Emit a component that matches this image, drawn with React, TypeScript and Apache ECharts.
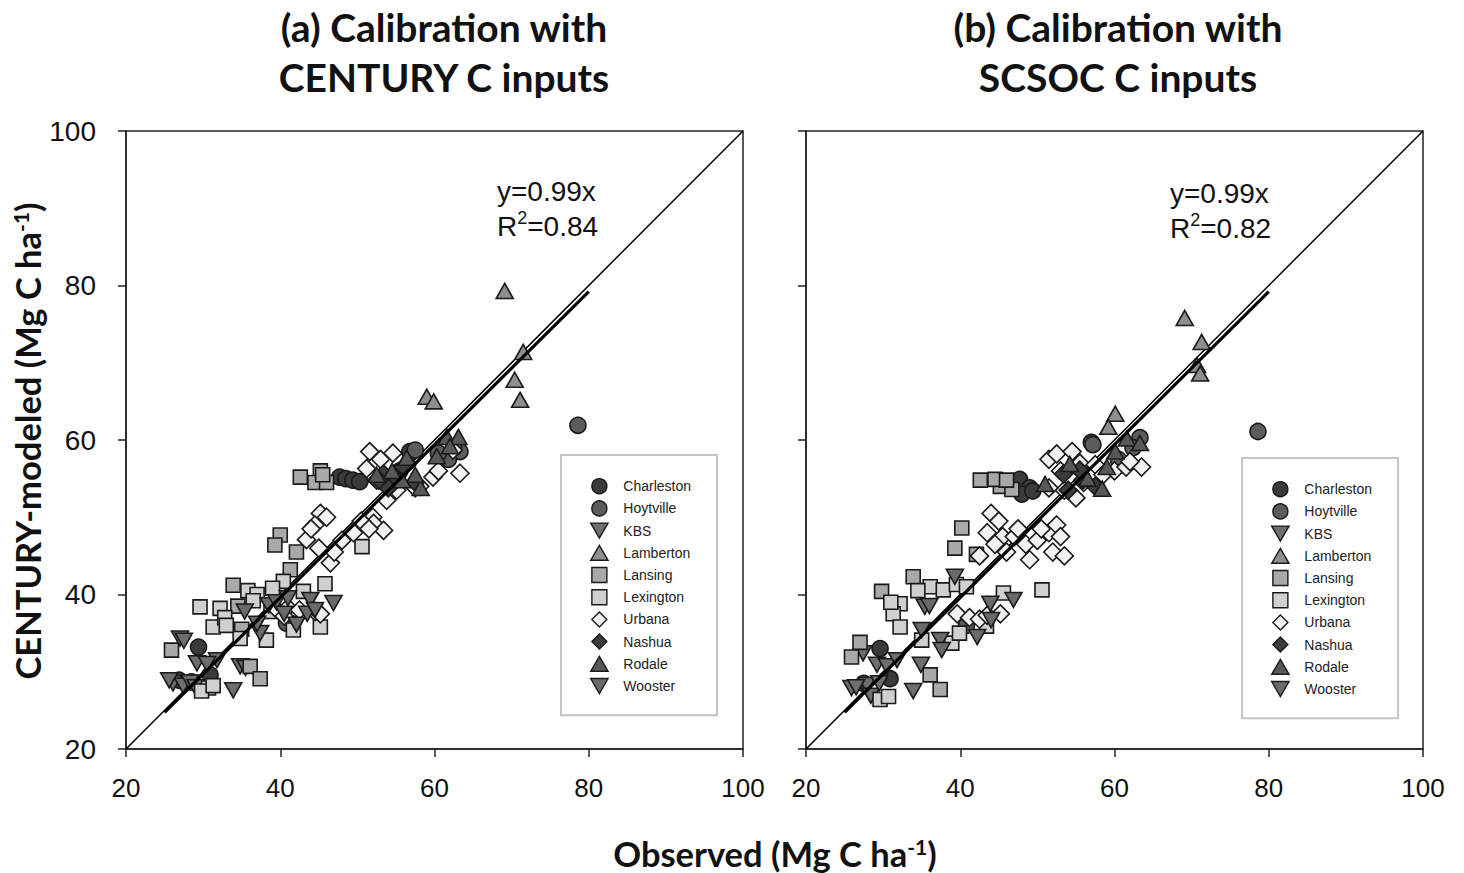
import React, { useEffect, useRef } from "react";
import * as echarts from "echarts";

// ---------- data ----------
const AXIS_MIN = 20;
const AXIS_MAX = 100;
const AXIS_STEP = 20;

const SITE_NAMES = ["Charleston", "Hoytville", "KBS", "Lamberton", "Lansing", "Lexington", "Urbana", "Nashua", "Rodale", "Wooster"];

const TITLE_A = ["(a) Calibration with", "CENTURY C inputs"];
const TITLE_B = ["(b) Calibration with", "SCSOC C inputs"];
const EQ_A = ["y=0.99x", "0.84"];
const EQ_B = ["y=0.99x", "0.82"];

const ONE_TO_ONE = [[20, 20], [100, 100]];
const FIT_A = [[25, 24.75], [80, 79.2]];
const FIT_B = [[25, 24.75], [80, 79.2]];

// Panel (a): CENTURY C inputs
const A_CHARLESTON = [[47.7, 55.2], [48.5, 55.0], [49.4, 54.8], [50.3, 54.6], [41.5, 36.2], [29.4, 33.2], [30.9, 29.6], [26.9, 28.9], [28.5, 28.7], [56.8, 58.5]];
const A_HOYTVILLE = [[78.6, 61.9], [63.3, 58.5], [62.5, 59.0], [61.8, 57.5], [60.5, 58.3], [55.5, 56.0], [40.8, 36.3], [57.5, 58.7]];
const A_KBS = [[27.0, 34.3], [27.5, 34.0], [29.2, 31.1], [31.8, 31.5], [30.5, 31.0], [34.8, 30.7], [35.5, 30.5], [33.9, 27.6], [26.1, 28.5], [27.4, 28.2], [28.3, 28.6], [25.6, 28.9], [29.0, 28.0]];
const A_LAMBERTON = [[69.1, 79.3], [71.5, 71.4], [70.4, 67.8], [71.1, 65.2], [59.0, 65.6], [59.9, 65.0]];
const A_LANSING = [[42.6, 55.2], [45.2, 56.0], [44.5, 54.5], [46.0, 54.5], [45.5, 55.5], [40.0, 47.7], [39.3, 46.4], [42.1, 45.5], [41.3, 43.2], [33.9, 41.2], [25.9, 32.8], [36.1, 30.7], [37.4, 29.1], [35.0, 35.5], [34.5, 38.5]];
const A_LEXINGTON = [[40.4, 41.7], [50.6, 46.2], [29.6, 38.4], [32.2, 38.2], [31.3, 35.8], [34.8, 34.3], [38.2, 34.1], [43.0, 40.4], [45.8, 41.4], [41.7, 35.4], [45.2, 35.8], [30.7, 27.9], [29.8, 27.5], [35.8, 40.5], [37.0, 40.0], [39.0, 40.8], [32.8, 37.0], [36.5, 39.2], [38.8, 37.8], [33.0, 36.0], [31.3, 28.2]];
const A_URBANA = [[51.6, 58.5], [54.6, 58.3], [51.2, 56.3], [52.5, 54.8], [55.1, 53.5], [58.1, 54.0], [59.8, 55.2], [63.3, 55.7], [62.4, 58.7], [53.0, 57.5], [56.5, 57.0], [57.5, 53.8], [60.5, 56.0], [53.8, 52.2], [52.0, 50.0], [45.2, 50.5], [43.4, 47.1], [46.5, 44.1], [52.1, 49.2], [53.4, 48.3], [44.5, 49.0], [46.0, 50.0], [45.0, 46.0], [48.0, 47.0], [49.5, 48.0], [50.5, 49.5], [47.0, 45.5], [51.5, 48.5], [44.0, 48.5], [39.5, 38.1], [41.0, 38.3], [42.5, 38.0], [44.5, 37.8], [45.2, 37.5], [40.5, 37.2]];
const A_NASHUA = [[53.4, 55.6], [55.0, 55.0], [56.0, 56.5], [57.5, 54.5], [54.0, 53.8], [52.8, 54.8]];
const A_RODALE = [[61.6, 60.4], [63.1, 60.4], [60.3, 57.9], [56.4, 57.7], [58.2, 53.8], [54.5, 56.0], [57.5, 55.5], [62.0, 59.2], [52.5, 55.5], [55.8, 54.8]];
const A_WOOSTER = [[35.4, 37.8], [37.4, 35.0], [37.0, 36.2], [43.9, 39.3], [46.9, 38.9], [42.1, 36.1], [43.5, 37.5], [38.5, 38.6], [39.5, 39.0], [41.0, 39.5], [44.5, 38.0], [40.5, 37.5]];

// Panel (b): SCSOC C inputs
const B_CHARLESTON = [[47.7, 54.9], [49.0, 53.8], [48.0, 53.0], [49.4, 53.4], [57.0, 59.7], [29.6, 33.0], [30.9, 29.1], [27.5, 28.5]];
const B_HOYTVILLE = [[78.6, 61.1], [63.3, 60.3], [62.4, 59.0], [57.2, 59.4], [60.5, 57.5], [55.0, 57.2], [40.8, 36.0]];
const B_KBS = [[27.4, 32.4], [29.2, 30.9], [30.5, 30.7], [31.8, 31.5], [34.9, 30.9], [33.9, 27.5], [25.9, 27.9], [27.9, 28.3], [28.4, 26.9], [26.5, 28.0], [29.5, 28.5]];
const B_LAMBERTON = [[69.1, 75.8], [71.3, 72.7], [70.7, 69.7], [71.1, 68.6], [60.1, 63.4], [59.2, 61.7]];
const B_LANSING = [[42.6, 54.8], [45.2, 54.0], [46.7, 53.6], [44.5, 54.9], [46.0, 54.8], [40.2, 48.6], [39.3, 46.0], [42.1, 45.2], [33.9, 42.3], [27.0, 33.8], [25.9, 31.9], [36.1, 29.6], [37.4, 27.7], [29.8, 40.4]];
const B_LEXINGTON = [[50.6, 40.6], [32.2, 38.8], [31.3, 37.5], [32.2, 35.8], [36.1, 41.0], [37.8, 40.6], [39.5, 41.3], [40.8, 41.0], [35.0, 34.1], [38.9, 33.7], [39.9, 35.0], [43.4, 35.9], [45.6, 40.2], [29.6, 26.4], [30.7, 26.8], [34.5, 40.5], [31.0, 39.0]];
const B_URBANA = [[51.5, 57.5], [52.5, 58.2], [53.0, 56.0], [54.5, 58.5], [55.5, 57.0], [57.5, 56.8], [58.5, 55.5], [60.0, 56.0], [61.5, 56.5], [63.5, 56.5], [62.0, 57.2], [53.5, 53.5], [56.0, 54.5], [51.5, 53.8], [55.0, 52.5], [44.0, 50.5], [45.0, 49.5], [43.5, 48.0], [45.5, 47.5], [47.0, 47.5], [48.5, 46.5], [50.0, 47.0], [51.5, 48.0], [52.5, 49.0], [53.0, 47.5], [52.0, 45.5], [53.5, 45.0], [46.0, 45.5], [49.0, 44.5], [47.5, 48.5], [50.5, 48.5], [44.5, 46.5], [42.5, 45.0], [39.6, 37.5], [41.2, 37.0], [42.5, 36.8], [43.5, 37.3], [45.2, 37.5]];
const B_NASHUA = [[53.4, 55.6], [55.9, 54.8], [55.5, 56.1], [54.0, 53.5], [57.5, 54.0]];
const B_RODALE = [[61.6, 60.2], [63.3, 59.6], [60.1, 58.5], [58.4, 53.7], [54.2, 56.9], [51.0, 54.3], [56.5, 55.0], [59.0, 56.5]];
const B_WOOSTER = [[39.3, 42.3], [35.4, 38.4], [35.0, 35.4], [37.4, 34.1], [37.6, 32.8], [43.9, 38.8], [46.9, 39.3], [42.2, 34.5], [44.0, 36.7], [36.0, 38.5]];

const PANEL_A = [A_CHARLESTON, A_HOYTVILLE, A_KBS, A_LAMBERTON, A_LANSING, A_LEXINGTON, A_URBANA, A_NASHUA, A_RODALE, A_WOOSTER];
const PANEL_B = [B_CHARLESTON, B_HOYTVILLE, B_KBS, B_LAMBERTON, B_LANSING, B_LEXINGTON, B_URBANA, B_NASHUA, B_RODALE, B_WOOSTER];

// ---------- styles ----------
const DOWN_TRIANGLE = "path://M0,0L20,0L10,17.3Z";
const UP_TRIANGLE = "path://M10,0L20,17.3L0,17.3Z";
const SQUARE = "path://M0,0L10,0L10,10L0,10Z";
const DIAMOND = "path://M5,0L10,5L5,10L0,5Z";

const SITE_STYLE: Record<string, { symbol: string; icon: string; color: string; size: number | number[] }> = {
  Charleston: { symbol: "circle", icon: "circle", color: "#3a3a3a", size: 16 },
  Hoytville: { symbol: "circle", icon: "circle", color: "#5c5c5c", size: 16 },
  KBS: { symbol: DOWN_TRIANGLE, icon: DOWN_TRIANGLE, color: "#6e6e6e", size: [17, 15] },
  Lamberton: { symbol: UP_TRIANGLE, icon: UP_TRIANGLE, color: "#8e8e8e", size: [17, 15] },
  Lansing: { symbol: "rect", icon: SQUARE, color: "#a9a9a9", size: 14 },
  Lexington: { symbol: "rect", icon: SQUARE, color: "#d0d0d0", size: 14 },
  Urbana: { symbol: "diamond", icon: DIAMOND, color: "#f2f2f2", size: 18 },
  Nashua: { symbol: "diamond", icon: DIAMOND, color: "#3c3c3c", size: 18 },
  Rodale: { symbol: UP_TRIANGLE, icon: UP_TRIANGLE, color: "#585858", size: [17, 15] },
  Wooster: { symbol: DOWN_TRIANGLE, icon: DOWN_TRIANGLE, color: "#6a6a6a", size: [17, 15] },
};

const FONT = "'Liberation Sans', Arial, sans-serif";
const TITLE_FONT = "Lato, 'Open Sans', sans-serif";

function makeAxis(gridIndex: number, showLabels: boolean, fontSize: number, margin: number) {
  return {
    type: "value",
    gridIndex,
    min: AXIS_MIN,
    max: AXIS_MAX,
    interval: AXIS_STEP,
    axisLine: { show: true, lineStyle: { color: "#222", width: 1.5 } },
    axisTick: { show: true, inside: false, length: 8, lineStyle: { color: "#222", width: 1.5 } },
    axisLabel: { show: showLabels, fontSize, color: "#111", fontFamily: FONT, margin },
    splitLine: { show: false },
  };
}

function scatterSeries(panel: number[][][], axisIndex: number) {
  return SITE_NAMES.map((name, i) => {
    const st = SITE_STYLE[name];
    return {
      type: "scatter",
      name,
      xAxisIndex: axisIndex,
      yAxisIndex: axisIndex,
      data: panel[i],
      symbol: st.symbol,
      symbolSize: st.size,
      itemStyle: { color: st.color, borderColor: "#1a1a1a", borderWidth: 1.6, opacity: 1 },
      emphasis: { disabled: true },
      z: 3,
    };
  });
}

function lineSeries(data: number[][], axisIndex: number, width: number, z: number) {
  return {
    type: "line",
    xAxisIndex: axisIndex,
    yAxisIndex: axisIndex,
    data,
    showSymbol: false,
    symbol: "none",
    lineStyle: { color: "#000", width },
    emphasis: { disabled: true },
    z,
  };
}

function legendAt(left: number, top: number) {
  return {
    orient: "vertical",
    left,
    top,
    data: SITE_NAMES.map((name) => ({ name, icon: SITE_STYLE[name].icon })),
    selectedMode: false,
    symbolKeepAspect: true,
    itemWidth: 38,
    itemHeight: 15,
    itemGap: 5.8,
    padding: [23, 26, 21, 29],
    borderColor: "#c4c4c4",
    borderWidth: 2,
    backgroundColor: "#fff",
    itemStyle: { borderColor: "#1a1a1a", borderWidth: 1.4 },
    textStyle: { fontSize: 14, color: "#222", fontFamily: FONT, lineHeight: 16 },
  };
}

const SUP_RICH = {
  a: { fontSize: 28, fontFamily: FONT, fill: "#111", lineHeight: 34 },
  s: { fontSize: 18, fontFamily: FONT, fill: "#111", verticalAlign: "top", lineHeight: 34 },
};

function eqText(x: number, y: number, eq: string[]) {
  return [
    { type: "text", x, y, style: { text: eq[0], font: `28px ${FONT}`, fill: "#111", textVerticalAlign: "middle" } },
    {
      type: "text",
      x,
      y: y + 35,
      style: { text: `{a|R}{s|2}{a|=${eq[1]}}`, rich: SUP_RICH, textVerticalAlign: "middle" },
    },
  ];
}

function titleText(cx: number, lines: string[]) {
  return lines.map((t, i) => ({
    type: "text",
    x: cx,
    y: 27 + i * 50,
    style: { text: t, font: `bold 39px ${TITLE_FONT}`, fill: "#111", textAlign: "center", textVerticalAlign: "middle" },
  }));
}

const AXIS_TITLE_RICH = {
  b: { fontSize: 34.5, fontWeight: "bold", fontFamily: TITLE_FONT, fill: "#111", lineHeight: 34 },
  s: { fontSize: 21, fontWeight: "bold", fontFamily: TITLE_FONT, fill: "#111", verticalAlign: "top", lineHeight: 34 },
};

export default function App() {
  const ref = useRef<HTMLDivElement>(null);
  useEffect(() => {
    if (!ref.current) return;
    const chart = echarts.init(ref.current, undefined, { renderer: "svg" });
    chart.setOption({
      animation: false,
      backgroundColor: "#fff",
      grid: [
        { left: 126, top: 131, width: 617, height: 618, show: true, borderColor: "#222", borderWidth: 1.5, backgroundColor: "transparent" },
        { left: 806, top: 131, width: 617, height: 618, show: true, borderColor: "#222", borderWidth: 1.5, backgroundColor: "transparent" },
      ],
      xAxis: [makeAxis(0, true, 26, 26), makeAxis(1, true, 26, 26)],
      yAxis: [makeAxis(0, true, 28, 30), makeAxis(1, false, 28, 30)],
      legend: [legendAt(561, 455), legendAt(1242, 458)],
      series: [
        lineSeries(ONE_TO_ONE, 0, 1.5, 1),
        lineSeries(ONE_TO_ONE, 1, 1.5, 1),
        ...scatterSeries(PANEL_A, 0),
        ...scatterSeries(PANEL_B, 1),
        lineSeries(FIT_A, 0, 3.2, 5),
        lineSeries(FIT_B, 1, 3.2, 5),
      ],
      graphic: [
        ...titleText(444, TITLE_A),
        ...titleText(1118, TITLE_B),
        ...eqText(497, 191, EQ_A),
        ...eqText(1170, 193, EQ_B),
        {
          type: "text",
          x: 27,
          y: 441,
          rotation: Math.PI / 2,
          style: { text: "{b|CENTURY-modeled (Mg C ha}{s|-1}{b|)}", rich: AXIS_TITLE_RICH, textAlign: "center", textVerticalAlign: "middle" },
        },
        {
          type: "text",
          x: 775,
          y: 853,
          style: { text: "{b|Observed (Mg C ha}{s|-1}{b|)}", rich: AXIS_TITLE_RICH, textAlign: "center", textVerticalAlign: "middle" },
        },
      ],
    });
    return () => chart.dispose();
  }, []);
  return <div ref={ref} style={{ position: "absolute", left: 0, top: 0, width: 1464, height: 873, background: "#fff" }} />;
}
